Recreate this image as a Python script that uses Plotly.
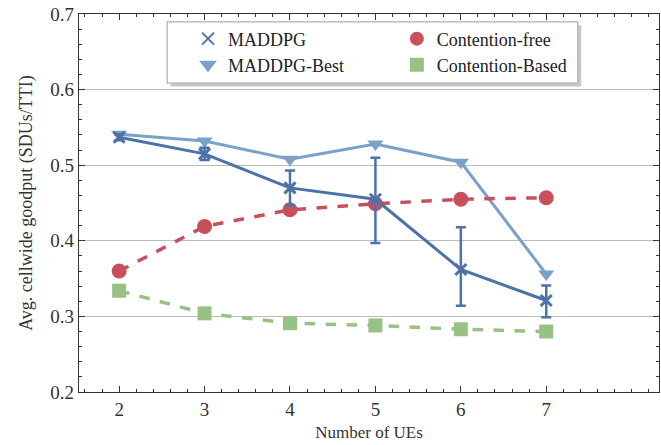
import plotly.graph_objects as go

ues = [2, 3, 4, 5, 6, 7]
maddpg = [0.537, 0.515, 0.470, 0.455, 0.362, 0.321]
maddpg_err_plus = [0.004, 0.008, 0.023, 0.055, 0.056, 0.020]
maddpg_err_minus = [0.004, 0.008, 0.023, 0.058, 0.048, 0.022]
maddpg_best = [0.541, 0.532, 0.508, 0.528, 0.504, 0.356]
cont_free = [0.360, 0.419, 0.441, 0.449, 0.455, 0.457]
cont_based = [0.334, 0.304, 0.291, 0.288, 0.283, 0.280]

C_M = "#4c72a8"
C_MB = "#7ba0c9"
C_CF = "#c8505a"
C_CB = "#98c283"

font = "Liberation Serif"
fig = go.Figure()

fig.add_trace(go.Scatter(x=ues, y=maddpg_best, mode="lines+markers", showlegend=False,
                         line=dict(color=C_MB, width=3),
                         marker=dict(symbol="triangle-down", size=14, color=C_MB)))
fig.add_trace(go.Scatter(x=ues, y=cont_free, mode="lines+markers", showlegend=False,
                         line=dict(color=C_CF, width=3.5, dash="dash"),
                         marker=dict(symbol="circle", size=15, color=C_CF)))
fig.add_trace(go.Scatter(x=ues, y=cont_based, mode="lines+markers", showlegend=False,
                         line=dict(color=C_CB, width=3.5, dash="dash"),
                         marker=dict(symbol="square", size=14, color=C_CB)))
fig.add_trace(go.Scatter(x=ues, y=maddpg, mode="lines+markers", showlegend=False,
                         line=dict(color=C_M, width=3),
                         marker=dict(symbol="x-thin", size=11, color=C_M, line=dict(width=3, color=C_M)),
                         error_y=dict(type="data", symmetric=False, array=maddpg_err_plus,
                                      arrayminus=maddpg_err_minus, color=C_M, thickness=2.5, width=5)))

# legend-only entries (markers only), one legend each for precise placement
entries = [("MADDPG", "x-thin", C_M, 11, "legend", 0.188, 0.934),
           ("MADDPG-Best", "triangle-down", C_MB, 14, "legend2", 0.188, 0.865),
           ("Contention-free", "circle", C_CF, 15, "legend3", 0.548, 0.934),
           ("Contention-Based", "square", C_CB, 14, "legend4", 0.548, 0.865)]
legend_layout = {}
for name, sym, col, sz, lg, lx, ly in entries:
    fig.add_trace(go.Scatter(x=[None], y=[None], mode="markers", name=name, legend=lg,
                             marker=dict(symbol=sym, size=sz, color=col, line=dict(width=3, color=col))))
    legend_layout[lg] = dict(x=lx, y=ly, xanchor="left", yanchor="middle",
                             font=dict(family=font, size=18, color="#222"),
                             bgcolor="rgba(0,0,0,0)", borderwidth=0, itemsizing="constant")

# legend frame with shadow
fig.add_shape(type="rect", xref="paper", yref="paper", x0=0.158, x1=0.866, y0=0.808, y1=0.970,
              fillcolor="#c8c8c8", line=dict(width=0), layer="above")
fig.add_shape(type="rect", xref="paper", yref="paper", x0=0.152, x1=0.860, y0=0.817, y1=0.979,
              fillcolor="white", line=dict(width=1.2, color="#b0b0b0"), layer="above")

axis_common = dict(showline=True, linecolor="#333", linewidth=1.2, mirror="ticks",
                   ticks="inside", ticklen=6, tickcolor="#333",
                   tickfont=dict(family=font, size=19, color="#333"), zeroline=False)

fig.update_xaxes(range=[1.53, 8.32], tickvals=ues, showgrid=False,
                 minor=dict(ticks="inside", ticklen=3, dtick=0.2, tickcolor="#333"),
                 title=dict(text="Number of UEs", font=dict(family=font, size=17, color="#333"), standoff=7),
                 **axis_common)
fig.update_yaxes(range=[0.2, 0.7], dtick=0.1, tickformat=".1f", showgrid=True, gridcolor="#bbbbbb", gridwidth=1.2,
                 minor=dict(ticks="inside", ticklen=3, dtick=0.02, tickcolor="#333", showgrid=False),
                 title=dict(text="Avg. cellwide goodput (SDUs/TTI)", font=dict(family=font, size=18, color="#333"), standoff=13),
                 **axis_common)

fig.update_layout(
    width=661, height=445, margin=dict(l=79, r=2, t=14, b=53, autoexpand=False),
    plot_bgcolor="white", paper_bgcolor="white",
    **legend_layout,
)

fig.write_html("out.html")
